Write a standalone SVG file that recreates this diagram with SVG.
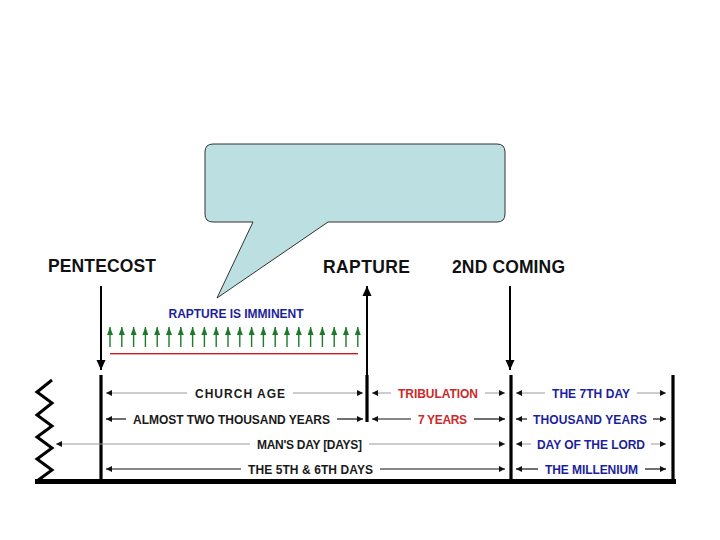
<svg xmlns="http://www.w3.org/2000/svg" width="720" height="540" viewBox="0 0 720 540">
<defs>
<style>
.big{font-family:"Liberation Sans",Arial,sans-serif;font-weight:bold;font-size:17.5px;fill:#111}
.lbl{font-family:"Liberation Sans",Arial,sans-serif;font-weight:bold;font-size:12px;text-anchor:middle}
.k{fill:#1a1a1a}.r{fill:#cc2a2a}.b{fill:#1c1f9c}
.thin{stroke:#9a9a9a;stroke-width:1;fill:none;marker-end:url(#ah)}
.dark{stroke:#111;stroke-width:1.2;fill:none;marker-end:url(#ah)}
.bar{stroke:#000;stroke-width:3.2;fill:none}
.barrow{stroke:#000;stroke-width:2;fill:none;marker-end:url(#bh)}
.gup{stroke:#1e7a2a;stroke-width:1.4;fill:none;marker-end:url(#gh)}
</style>
<marker id="ah" viewBox="0 0 6 6" refX="6" refY="3" markerWidth="6" markerHeight="6" orient="auto" markerUnits="userSpaceOnUse"><path d="M0,0 L6,3 L0,6z" fill="#111"/></marker>
<marker id="bh" viewBox="0 0 10 10" refX="10" refY="5" markerWidth="10" markerHeight="10" orient="auto" markerUnits="userSpaceOnUse"><path d="M0,0.5 L10,5 L0,9.5z" fill="#000"/></marker>
<marker id="gh" viewBox="0 0 8 6" refX="8" refY="3" markerWidth="8" markerHeight="6" orient="auto" markerUnits="userSpaceOnUse"><path d="M0,0 L8,3 L0,6z" fill="#1e7a2a"/></marker>
</defs>
<rect width="720" height="540" fill="#fff"/>

<g id="callout">
<path d="M213,144 H497 Q505,144 505,152 V214 Q505,222 497,222 H328 L217,298 L253,222 H213 Q205,222 205,214 V152 Q205,144 213,144 Z" fill="#bcdfe1" stroke="#333" stroke-width="1"/>
</g>

<g id="pentecost">
<text class="big" x="48" y="272" textLength="108">PENTECOST</text>
</g>
<g id="rapture">
<text class="big" x="323" y="273" textLength="87">RAPTURE</text>
</g>
<g id="second-coming">
<text class="big" x="452" y="273" textLength="113">2ND COMING</text>
</g>

<g id="imminent">
<text class="lbl" x="236" y="318" textLength="135" fill="#1c1f9c">RAPTURE IS IMMINENT</text>
<rect x="110" y="353" width="248" height="1.4" fill="#c42020"/>
<g id="green-arrows">
<path class="gup" d="M110,347V327"/><path class="gup" d="M121.8,347V327"/><path class="gup" d="M133.6,347V327"/><path class="gup" d="M145.4,347V327"/><path class="gup" d="M157.2,347V327"/><path class="gup" d="M169,347V327"/><path class="gup" d="M180.8,347V327"/><path class="gup" d="M192.6,347V327"/><path class="gup" d="M204.4,347V327"/><path class="gup" d="M216.2,347V327"/><path class="gup" d="M228,347V327"/><path class="gup" d="M239.8,347V327"/><path class="gup" d="M251.6,347V327"/><path class="gup" d="M263.4,347V327"/><path class="gup" d="M275.2,347V327"/><path class="gup" d="M287,347V327"/><path class="gup" d="M298.8,347V327"/><path class="gup" d="M310.6,347V327"/><path class="gup" d="M322.4,347V327"/><path class="gup" d="M334.2,347V327"/><path class="gup" d="M346,347V327"/><path class="gup" d="M357.8,347V327"/>
</g>
</g>

<g id="frame">
<polyline points="52,380 37,392 52,403 37,415 52,426 37,437 52,448 37,459 52,470 37,481" fill="none" stroke="#000" stroke-width="3"/>
<line x1="35" y1="481.5" x2="676" y2="481.5" stroke="#000" stroke-width="5"/>
<line class="bar" x1="101" y1="375" x2="101" y2="480"/>
<line class="bar" x1="367" y1="375" x2="367" y2="422"/>
<line class="bar" x1="511" y1="375" x2="511" y2="480"/>
<line class="bar" x1="673" y1="375" x2="673" y2="483"/>
</g>

<g id="connectors">
<line class="barrow" x1="101" y1="286" x2="101" y2="370"/>
<line class="barrow" x1="367" y1="376" x2="367" y2="286"/>
<line class="barrow" x1="510" y1="286" x2="510" y2="370"/>
<line class="thin" x1="187" y1="393" x2="106" y2="393"/>
<line class="thin" x1="293" y1="393" x2="363" y2="393"/>
<line class="thin" x1="391" y1="393" x2="372" y2="393"/>
<line class="thin" x1="485" y1="393" x2="505" y2="393"/>
<line class="thin" x1="545" y1="393" x2="516" y2="393"/>
<line class="thin" x1="637" y1="393" x2="666" y2="393"/>
<line class="dark" x1="126" y1="419" x2="106" y2="419"/>
<line class="dark" x1="337" y1="419" x2="363" y2="419"/>
<line class="dark" x1="411" y1="419" x2="372" y2="419"/>
<line class="dark" x1="474" y1="419" x2="505" y2="419"/>
<line class="dark" x1="527" y1="419" x2="516" y2="419"/>
<line class="dark" x1="653" y1="419" x2="666" y2="419"/>
<line class="thin" x1="250" y1="444" x2="56" y2="444"/>
<line class="thin" x1="369" y1="444" x2="505" y2="444"/>
<line class="thin" x1="531" y1="444" x2="516" y2="444"/>
<line class="thin" x1="651" y1="444" x2="666" y2="444"/>
<line class="dark" x1="241" y1="469" x2="106" y2="469"/>
<line class="dark" x1="380" y1="469" x2="505" y2="469"/>
<line class="dark" x1="538" y1="469" x2="516" y2="469"/>
<line class="dark" x1="645" y1="469" x2="666" y2="469"/>
</g>

<g id="labels">
<text class="lbl k" x="240" y="397.5" textLength="90">CHURCH AGE</text>
<text class="lbl r" x="438" y="397.5" textLength="80">TRIBULATION</text>
<text class="lbl b" x="591" y="397.5" textLength="78">THE 7TH DAY</text>
<text class="lbl k" x="231.5" y="423.5" textLength="197">ALMOST TWO THOUSAND YEARS</text>
<text class="lbl r" x="442.5" y="423.5" textLength="49">7 YEARS</text>
<text class="lbl b" x="590" y="423.5" textLength="114">THOUSAND YEARS</text>
<text class="lbl k" x="309.5" y="448.5" textLength="105">MAN'S DAY [DAYS]</text>
<text class="lbl b" x="591" y="448.5" textLength="108">DAY OF THE LORD</text>
<text class="lbl k" x="310.5" y="473.5" textLength="125">THE 5TH &amp; 6TH DAYS</text>
<text class="lbl b" x="591.5" y="473.5" textLength="93">THE MILLENIUM</text>
</g>
</svg>
